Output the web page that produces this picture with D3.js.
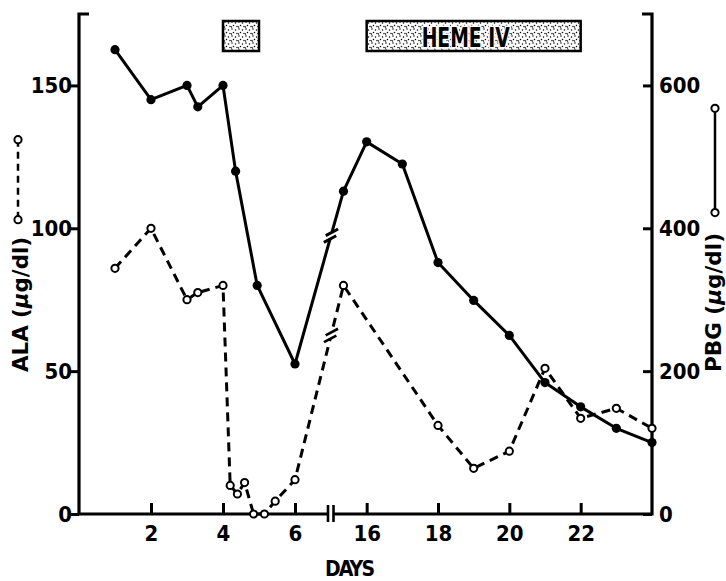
<!DOCTYPE html>
<html lang="en">
<head>
    <meta charset="UTF-8">
    <title>ALA and PBG during heme therapy</title>
    <script src="https://d3js.org/d3.v7.min.js"></script>
    <style>
        body { margin: 0; background: #fff; }
        text { font-family: "Liberation Sans Narrow", "DejaVu Sans Condensed", "Liberation Sans", sans-serif; font-weight: bold; fill: #000; }
    </style>
</head>
<body>

<div id="chart"></div>

<script>

// ALA (left axis, dashed, open circles)
const alaDays = [1, 2, 3, 3.3, 4, 4.2, 4.4, 4.6, 4.85, 5.15, 5.45, 6, 15.35, 18, 19, 20, 21, 22, 23, 24];
const alaValues = [86, 100, 75, 77.5, 80, 10, 7, 11, 0, 0, 4.5, 12, 80, 31, 16, 22, 51, 33.5, 37, 30];

// PBG (right axis, solid, filled circles)
const pbgDays = [1, 2, 3, 3.3, 4, 4.35, 4.95, 6, 15.35, 16, 17, 18, 19, 20, 21, 22, 23, 24];
const pbgValues = [650, 580, 600, 570, 600, 480, 320, 210, 452, 521, 490, 352, 299, 250, 184, 150, 120, 100];

// heme infusion periods (days)
const hemeStart = [4, 16];
const hemeEnd = [5, 22];
const hemeLabels = ["", "HEME IV"];

const dayTicks = [2, 4, 6, 16, 18, 20, 22];
const alaTicks = [0, 50, 100, 150];
const pbgTicks = [0, 200, 400, 600];
const breakDay = 7;   // axis jumps from day 7 to day 15

const width = 726;
const height = 581;

const svg = d3.select("#chart").append("svg")
    .attr("width", width)
    .attr("height", height);

// stipple pattern for the heme boxes
const pat = svg.append("defs").append("pattern")
    .attr("id", "stipple")
    .attr("width", 7).attr("height", 7)
    .attr("patternUnits", "userSpaceOnUse");
pat.append("rect").attr("width", 7).attr("height", 7).attr("fill", "#fff");
[[1, 1], [4.5, 2], [2.5, 4.5], [6, 5.5], [0.5, 6]].forEach(p => {
    pat.append("circle").attr("cx", p[0]).attr("cy", p[1]).attr("r", 0.75).attr("fill", "#000");
});

// broken x scale: days 7..15 collapse to one point
const x = d3.scaleLinear().domain([0, 7, 15, 24]).range([79, 331, 331, 652]);
const yAla = d3.scaleLinear().domain([0, 175]).range([514, 14]);
const yPbg = d3.scaleLinear().domain([0, 700]).range([514, 14]);

const ink = "#000";

// ---- axes ----
const xAxis = svg.append("g").attr("transform", `translate(0,${yAla(0)})`)
    .call(d3.axisBottom(x).tickValues(dayTicks).tickSize(-11).tickPadding(11).tickFormat(d3.format("d")));
const leftAxis = svg.append("g").attr("transform", `translate(${x(0)},0)`)
    .call(d3.axisLeft(yAla).tickValues(alaTicks).tickSize(9).tickPadding(0));
const rightAxis = svg.append("g").attr("transform", `translate(${x(24)},0)`)
    .call(d3.axisRight(yPbg).tickValues(pbgTicks).tickSize(-9).tickPadding(7));

[xAxis, leftAxis, rightAxis].forEach(g => {
    g.select(".domain").remove();
    g.selectAll(".tick line").attr("stroke", ink).attr("stroke-width", 3);
    g.selectAll(".tick text").attr("font-size", 22).attr("fill", ink);
    g.attr("font-family", null).attr("font-size", null);
});
leftAxis.selectAll(".tick text").attr("x", -7);

// axis lines
svg.append("path")
    .attr("d", `M${x(0) + 10},${yAla(175)}H${x(0)}V${yAla(0)}H${x(24)}V${yAla(175)}H${x(24) - 10}`)
    .attr("fill", "none").attr("stroke", ink).attr("stroke-width", 3.2)
    .attr("stroke-linejoin", "miter");

// axis break marks
const bx = x(breakDay);
svg.append("rect").attr("x", bx - 3).attr("y", yAla(0) - 3).attr("width", 5).attr("height", 6).attr("fill", "#fff");
[-3, 2.5].forEach(o => {
    svg.append("line")
        .attr("x1", bx + o).attr("x2", bx + o)
        .attr("y1", yAla(0) - 9).attr("y2", yAla(0) + 8)
        .attr("stroke", ink).attr("stroke-width", 2.6);
});

// ---- heme boxes ----
hemeStart.forEach((s, i) => {
    svg.append("rect")
        .attr("x", x(s)).attr("y", 21)
        .attr("width", x(hemeEnd[i]) - x(s)).attr("height", 30)
        .attr("fill", "url(#stipple)")
        .attr("stroke", ink).attr("stroke-width", 2.5);
    if (hemeLabels[i]) {
        svg.append("text")
            .attr("x", (x(s) + x(hemeEnd[i])) / 2 - 8).attr("y", 47)
            .attr("text-anchor", "middle")
            .attr("font-size", 26)
            .attr("textLength", 88).attr("lengthAdjust", "spacingAndGlyphs")
            .attr("stroke", "#fff").attr("stroke-width", 3).attr("paint-order", "stroke")
            .text(hemeLabels[i]);
    }
});

// ---- series ----
const alaData = alaDays.map((d, i) => ({day: d, v: alaValues[i]}));
const pbgData = pbgDays.map((d, i) => ({day: d, v: pbgValues[i]}));

function drawBreak(data, yScale, dashed) {
    // find the segment that crosses the axis break and mark it with //
    for (let i = 1; i < data.length; i++) {
        if (data[i - 1].day <= breakDay && data[i].day >= 15) {
            const x0 = x(data[i - 1].day), y0 = yScale(data[i - 1].v);
            const x1 = x(data[i].day), y1 = yScale(data[i].v);
            const t = (bx - x0) / (x1 - x0);
            const cx = bx, cy = y0 + t * (y1 - y0);
            const len = Math.hypot(x1 - x0, y1 - y0);
            const ux = (x1 - x0) / len, uy = (y1 - y0) / len;
            const ang = -28 * Math.PI / 180;
            const mx = Math.cos(ang) * 7, my = Math.sin(ang) * 7;
            svg.append("line")
                .attr("x1", cx - ux * 3).attr("y1", cy - uy * 3)
                .attr("x2", cx + ux * 3).attr("y2", cy + uy * 3)
                .attr("stroke", "#fff").attr("stroke-width", 6);
            [-3.5, 3.5].forEach(o => {
                const px = cx + ux * o, py = cy + uy * o;
                svg.append("line")
                    .attr("x1", px - mx).attr("y1", py - my)
                    .attr("x2", px + mx).attr("y2", py + my)
                    .attr("stroke", ink).attr("stroke-width", dashed ? 2.6 : 3);
            });
        }
    }
}

const alaLine = d3.line().x(d => x(d.day)).y(d => yAla(d.v));
const pbgLine = d3.line().x(d => x(d.day)).y(d => yPbg(d.v));

svg.append("path").datum(pbgData)
    .attr("d", pbgLine)
    .attr("fill", "none").attr("stroke", ink).attr("stroke-width", 3)
    .attr("stroke-linejoin", "round");
drawBreak(pbgData, yPbg, false);

svg.append("path").datum(alaData)
    .attr("d", alaLine)
    .attr("fill", "none").attr("stroke", ink).attr("stroke-width", 3)
    .attr("stroke-dasharray", "9,6");
drawBreak(alaData, yAla, true);

svg.append("g").selectAll("circle")
    .data(pbgData).join("circle")
    .attr("cx", d => x(d.day)).attr("cy", d => yPbg(d.v))
    .attr("r", 4.6).attr("fill", ink);

svg.append("g").selectAll("circle")
    .data(alaData).join("circle")
    .attr("cx", d => x(d.day)).attr("cy", d => yAla(d.v))
    .attr("r", 3.6).attr("fill", "#fff")
    .attr("stroke", ink).attr("stroke-width", 2);

// ---- axis titles and legend keys ----
svg.append("text")
    .attr("x", 350).attr("y", 576)
    .attr("text-anchor", "middle")
    .attr("font-size", 21)
    .attr("textLength", 50).attr("lengthAdjust", "spacing")
    .text("DAYS");

function sideTitle(xPos, label, len) {
    const t = svg.append("text")
        .attr("transform", `translate(${xPos},372) rotate(-90)`)
        .attr("font-size", 22)
        .attr("textLength", len).attr("lengthAdjust", "spacingAndGlyphs");
    t.append("tspan").text(label + " (");
    t.append("tspan").attr("font-style", "italic").text("µ");
    t.append("tspan").text("g/dl)");
}
sideTitle(28, "ALA", 135);
sideTitle(721, "PBG", 139);

// legend keys next to the titles
svg.append("line")
    .attr("x1", 18).attr("x2", 18).attr("y1", yAla(131)).attr("y2", yAla(103))
    .attr("stroke", ink).attr("stroke-width", 2.5).attr("stroke-dasharray", "7,5");
svg.append("g").selectAll("circle")
    .data([131, 103]).join("circle")
    .attr("cx", 18).attr("cy", d => yAla(d)).attr("r", 3.6)
    .attr("fill", "#fff").attr("stroke", ink).attr("stroke-width", 2);

svg.append("line")
    .attr("x1", 715).attr("x2", 715).attr("y1", yPbg(568)).attr("y2", yPbg(422))
    .attr("stroke", ink).attr("stroke-width", 2.5);
svg.append("g").selectAll("circle")
    .data([568, 422]).join("circle")
    .attr("cx", 715).attr("cy", d => yPbg(d)).attr("r", 3.6)
    .attr("fill", "#fff").attr("stroke", ink).attr("stroke-width", 2);

</script>
</body>
</html>
